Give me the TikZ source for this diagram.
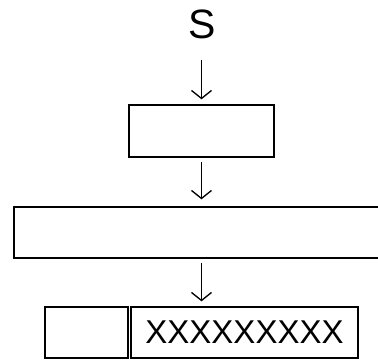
\documentclass[tikz,border=0pt]{standalone}
\usepackage{fontspec}
\setmainfont{Liberation Sans}
\usetikzlibrary{arrows.meta}
\begin{document}
\begin{tikzpicture}[x=1pt,y=-1pt,
  box/.style={draw,line width=1.4pt,inner sep=0pt,rectangle},
  arr/.style={line width=1.3pt,-{Straight Barb[length=8pt,width=20pt]}}]
\useasboundingbox (0,0) rectangle (378,360);
\clip (0,0) rectangle (378,360);
\node[inner sep=0pt,font=\fontsize{41}{44}\selectfont] (S) at (202.5,24) {S};
\node[box,minimum width=145pt,minimum height=52pt] (b1) at (201.5,131) {};
\node[box,minimum width=390pt,minimum height=51pt] (b2) at (209,232.5) {};
\node[box,minimum width=83pt,minimum height=51pt] (b3) at (86.5,332.5) {};
\node[box,minimum width=227pt,minimum height=51pt,font=\fontsize{33}{36}\selectfont] (b4) at (244.5,332.5) {XXXXXXXXX};
\draw[arr,shorten <=21pt,shorten >=5pt] (S.south -| b1.north) -- (b1.north);
\draw[arr,shorten <=4pt,shorten >=7pt] (b1.south) -- (b1.south |- b2.north);
\draw[arr,shorten <=4pt,shorten >=5pt] (b1.south |- b2.south) -- (b1.south |- b4.north);
\end{tikzpicture}
\end{document}
